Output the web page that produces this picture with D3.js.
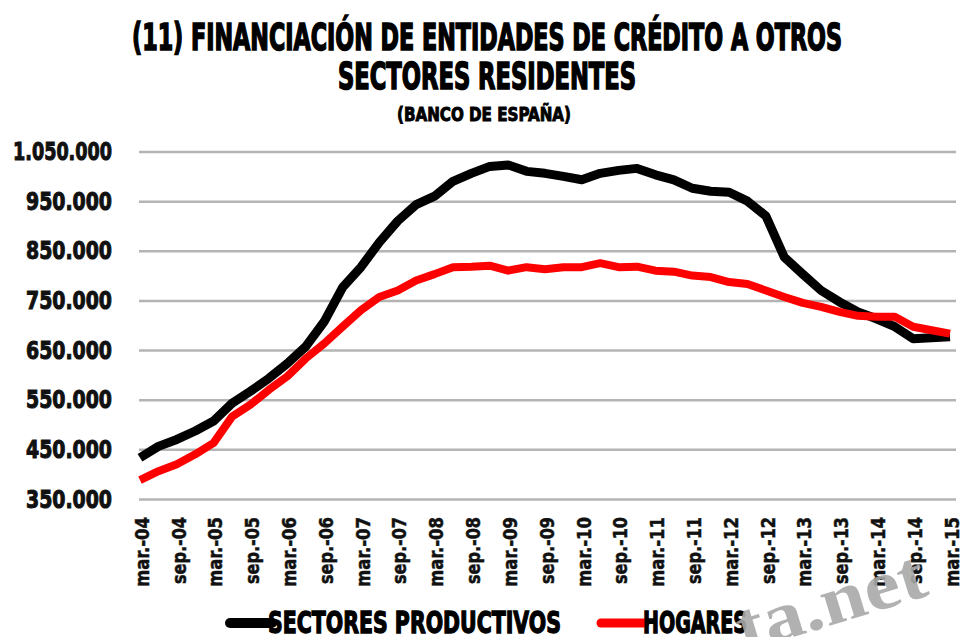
<!DOCTYPE html>
<html>
<head>
<meta charset="utf-8">
<script src="https://cdn.jsdelivr.net/npm/d3@7"></script>
<style>
body { margin: 0; background: #fff; }
text { font-family: 'Liberation Sans Narrow', 'DejaVu Sans Condensed', Arial, sans-serif; font-weight: bold; }
</style>
</head>
<body>
<div id="chart"></div>
<script>
// trimestres mar.-04 .. mar.-15
var quarters = [
    "mar.-04", "jun.-04", "sep.-04", "dic.-04", "mar.-05", "jun.-05", "sep.-05", "dic.-05",
    "mar.-06", "jun.-06", "sep.-06", "dic.-06", "mar.-07", "jun.-07", "sep.-07", "dic.-07",
    "mar.-08", "jun.-08", "sep.-08", "dic.-08", "mar.-09", "jun.-09", "sep.-09", "dic.-09",
    "mar.-10", "jun.-10", "sep.-10", "dic.-10", "mar.-11", "jun.-11", "sep.-11", "dic.-11",
    "mar.-12", "jun.-12", "sep.-12", "dic.-12", "mar.-13", "jun.-13", "sep.-13", "dic.-13",
    "mar.-14", "jun.-14", "sep.-14", "dic.-14", "mar.-15"];

var xLabels = quarters.filter(function (q) { return q.indexOf("mar") == 0 || q.indexOf("sep") == 0; });

// miles de euros
var productivos = [
    433000, 456000, 470000, 487000, 507000, 543000, 567000, 593000, 623000, 657000,
    707000, 776000, 817000, 867000, 910000, 943000, 960000, 990000, 1006000, 1020000,
    1023000, 1010000, 1006000, 1000000, 993000, 1006000, 1012000, 1016000, 1003000, 993000,
    976000, 970000, 968000, 950000, 920000, 837000, 803000, 770000, 747000, 727000,
    713000, 697000, 673000, 675000, 677000];

var hogares = [
    388000, 406000, 420000, 440000, 463000, 516000, 540000, 570000, 597000, 633000,
    663000, 697000, 730000, 757000, 770000, 790000, 803000, 817000, 818000, 820000,
    810000, 817000, 813000, 817000, 817000, 825000, 817000, 818000, 810000, 808000,
    800000, 797000, 787000, 783000, 770000, 757000, 745000, 737000, 727000, 719000,
    717000, 717000, 697000, 690000, 683000];

var yTicks = [350000, 450000, 550000, 650000, 750000, 850000, 950000, 1050000];

var titleLines = ["(11) FINANCIACIÓN DE ENTIDADES DE CRÉDITO A OTROS", "SECTORES RESIDENTES", "(BANCO DE ESPAÑA)"];
var seriesNames = ["SECTORES PRODUCTIVOS", "HOGARES"];

var width = 962, height = 637;
var plotLeft = 139, plotRight = 956, plotTop = 151.5, plotBottom = 499;

var svg = d3.select("#chart").append("svg")
    .attr("width", width)
    .attr("height", height);

var es = d3.formatLocale({ decimal: ",", thousands: ".", grouping: [3], currency: ["", " €"] });
var fmt = es.format(",");

var x = d3.scalePoint().domain(quarters).range([140, 950]);
var y = d3.scaleLinear().domain([350000, 1050000]).range([plotBottom, plotTop]);

// titulo
var titles = svg.append("g");
titles.append("text").attr("x", 487).attr("y", 50).attr("text-anchor", "middle")
    .style("font-size", "37px").attr("stroke", "#000").attr("stroke-width", 1.6)
    .attr("textLength", 710).attr("lengthAdjust", "spacingAndGlyphs")
    .text(titleLines[0]);
titles.append("text").attr("x", 487).attr("y", 89).attr("text-anchor", "middle")
    .style("font-size", "37px").attr("stroke", "#000").attr("stroke-width", 1.6)
    .attr("textLength", 298).attr("lengthAdjust", "spacingAndGlyphs")
    .text(titleLines[1]);
titles.append("text").attr("x", 484).attr("y", 121).attr("text-anchor", "middle")
    .style("font-size", "19px").attr("stroke", "#000").attr("stroke-width", 0.9)
    .attr("textLength", 174).attr("lengthAdjust", "spacingAndGlyphs")
    .text(titleLines[2]);

// eje y + rejilla
var yAxis = svg.append("g")
    .attr("transform", "translate(" + plotLeft + ",0)")
    .call(d3.axisLeft(y).tickValues(yTicks).tickSize(-(plotRight - plotLeft)).tickPadding(27).tickFormat(fmt));
yAxis.select(".domain").remove();
yAxis.selectAll(".tick line").attr("stroke", "#b4b4b4").attr("stroke-width", 2.5);
yAxis.selectAll(".tick text")
    .style("font-size", "25px").attr("fill", "#111").attr("stroke", "#111").attr("stroke-width", 1)
    .attr("textLength", function (d) { return d >= 1000000 ? 99 : 86; })
    .attr("lengthAdjust", "spacingAndGlyphs");

// eje x
var xAxis = svg.append("g")
    .attr("transform", "translate(0," + plotBottom + ")")
    .call(d3.axisBottom(x).tickValues(xLabels).tickSize(0));
xAxis.select(".domain").remove();
xAxis.selectAll(".tick text")
    .attr("transform", "translate(1,18) rotate(-90)")
    .attr("x", 0).attr("y", 0).attr("dy", "0.36em")
    .attr("text-anchor", "end")
    .style("font-size", "20px").attr("fill", "#111").attr("stroke", "#111").attr("stroke-width", 0.5)
    .attr("textLength", function (d) { return d.indexOf("mar") == 0 ? 70 : 67; })
    .attr("lengthAdjust", "spacingAndGlyphs");

// lineas
var line = d3.line()
    .x(function (d, i) { return x(quarters[i]); })
    .y(function (d) { return y(d); });

svg.append("path")
    .datum(productivos)
    .attr("d", line)
    .attr("fill", "none")
    .attr("stroke", "#000")
    .attr("stroke-width", 9)
    .attr("stroke-linejoin", "round");

svg.append("path")
    .datum(hogares)
    .attr("d", line)
    .attr("fill", "none")
    .attr("stroke", "#f00")
    .attr("stroke-width", 8)
    .attr("stroke-linejoin", "round");

// leyenda
var legend = svg.append("g");
legend.append("line").attr("x1", 230).attr("x2", 272).attr("y1", 623).attr("y2", 623)
    .attr("stroke", "#000").attr("stroke-width", 10).attr("stroke-linecap", "round");
legend.append("text").attr("x", 268).attr("y", 633)
    .style("font-size", "30px").attr("stroke", "#000").attr("stroke-width", 1.3)
    .attr("textLength", 293).attr("lengthAdjust", "spacingAndGlyphs")
    .text(seriesNames[0]);
legend.append("line").attr("x1", 601).attr("x2", 645).attr("y1", 623).attr("y2", 623)
    .attr("stroke", "#f00").attr("stroke-width", 9).attr("stroke-linecap", "round");
legend.append("text").attr("x", 643).attr("y", 633)
    .style("font-size", "30px").attr("stroke", "#000").attr("stroke-width", 1.3)
    .attr("textLength", 104).attr("lengthAdjust", "spacingAndGlyphs")
    .text(seriesNames[1]);

// marca de agua
svg.append("text")
    .attr("transform", "translate(744,652) rotate(-17)")
    .style("font-family", "'Liberation Serif', 'DejaVu Serif', serif")
    .style("font-size", "70px")
    .attr("fill", "#a9a9a9")
    .attr("fill-opacity", 0.9)
    .attr("textLength", 195).attr("lengthAdjust", "spacingAndGlyphs")
    .text("ta.net");
</script>
</body>
</html>
